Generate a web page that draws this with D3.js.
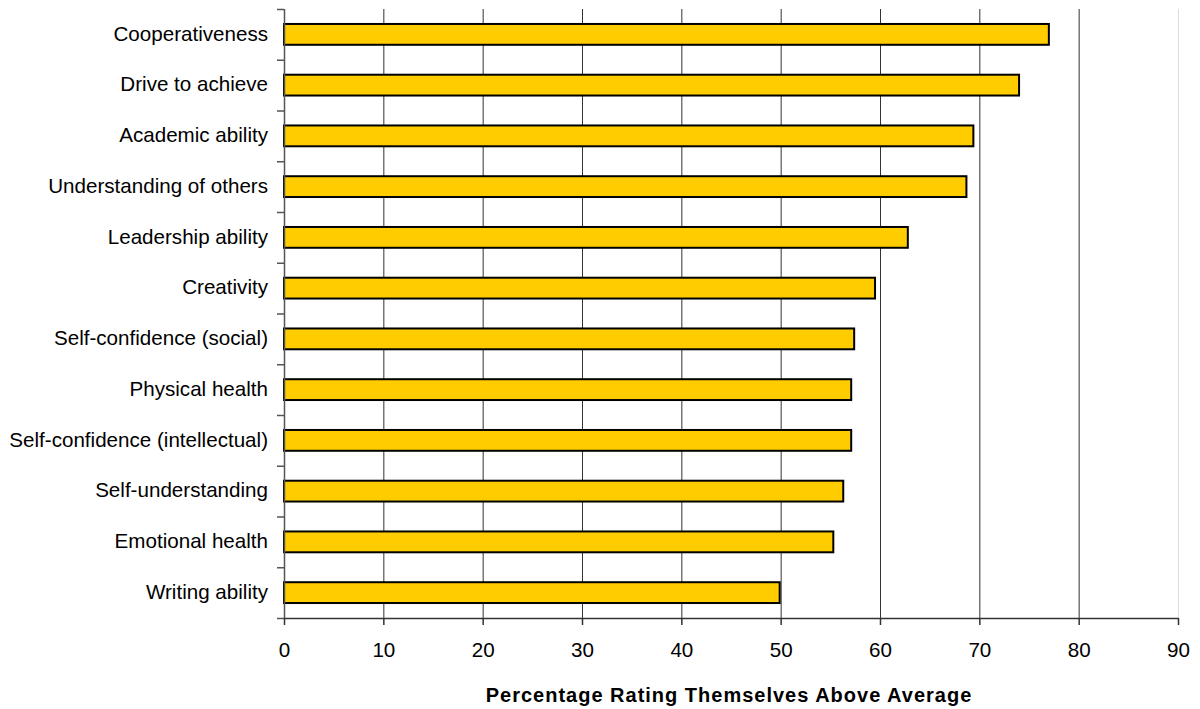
<!DOCTYPE html>
<html><head><meta charset="utf-8">
<script src="https://cdn.jsdelivr.net/npm/d3@7"></script>
<style>body{margin:0;background:#fff}svg{display:block}text{font-family:"Liberation Sans",Arial,sans-serif}</style>
</head><body>
<script>
const categories = ["Cooperativeness","Drive to achieve","Academic ability","Understanding of others","Leadership ability","Creativity","Self-confidence (social)","Physical health","Self-confidence (intellectual)","Self-understanding","Emotional health","Writing ability"];
const values = [77.0,74.0,69.4,68.7,62.8,59.5,57.4,57.1,57.1,56.3,55.3,49.9];
const xTicks = [0,10,20,30,40,50,60,70,80,90];
const xTitle = "Percentage Rating Themselves Above Average";

const W=1200,H=709;
const m={left:284,right:22,top:9,bottom:91};
const svg=d3.select("body").append("svg").attr("width",W).attr("height",H);
const x=d3.scaleLinear().domain([0,90]).range([m.left,W-m.right]);
const y=d3.scaleBand().domain(categories).range([m.top,H-m.bottom]).paddingInner(0.59).paddingOuter(0.295);
const yb=d3.scaleBand().domain(categories).range([m.top,H-m.bottom]);

// gridlines
svg.append("g").selectAll("line").data(xTicks.slice(1)).join("line")
  .attr("x1",d=>x(d)+0.5).attr("x2",d=>x(d)+0.5)
  .attr("y1",m.top).attr("y2",H-m.bottom)
  .attr("stroke",d=>d===90?"#dcdcdc":"#333").attr("stroke-width",1);

// bars
svg.append("g").selectAll("rect").data(categories).join("rect")
  .attr("x",x(0)).attr("y",d=>y(d))
  .attr("width",(d,i)=>x(values[i])-x(0)).attr("height",y.bandwidth())
  .attr("fill","#FFCC00").attr("stroke","#000").attr("stroke-width",2);

// y axis
const ya=svg.append("g");
ya.append("line").attr("x1",m.left+0.5).attr("x2",m.left+0.5).attr("y1",m.top).attr("y2",H-m.bottom).attr("stroke","#555").attr("stroke-width",1.5);
const bounds=categories.map(c=>yb(c)).concat([H-m.bottom]);
ya.selectAll("line.t").data(bounds).join("line").attr("class","t")
  .attr("x1",m.left-7).attr("x2",m.left).attr("y1",d=>d+0.5).attr("y2",d=>d+0.5).attr("stroke","#555").attr("stroke-width",1.5);
ya.selectAll("text").data(categories).join("text")
  .attr("x",268).attr("y",d=>yb(d)+yb.bandwidth()/2-1).attr("dy","0.35em")
  .attr("text-anchor","end").attr("font-size",20.6).attr("fill","#000").text(d=>d);

// x axis
const xa=svg.append("g").attr("transform",`translate(0,${H-m.bottom})`)
  .call(d3.axisBottom(x).tickValues(xTicks).tickSize(7).tickPadding(17).tickSizeOuter(0));
xa.select(".domain").attr("stroke","#333").attr("stroke-width",1.5);
xa.selectAll(".tick line").attr("stroke","#333").attr("stroke-width",1.5);
xa.selectAll(".tick text").attr("font-size",20.6).attr("fill","#000").attr("font-family","\"Liberation Sans\",Arial,sans-serif");

svg.append("text").attr("x",729).attr("y",702)
  .attr("text-anchor","middle").attr("font-size",20).attr("font-weight","bold").attr("letter-spacing","1").text(xTitle);
</script>
</body></html>
